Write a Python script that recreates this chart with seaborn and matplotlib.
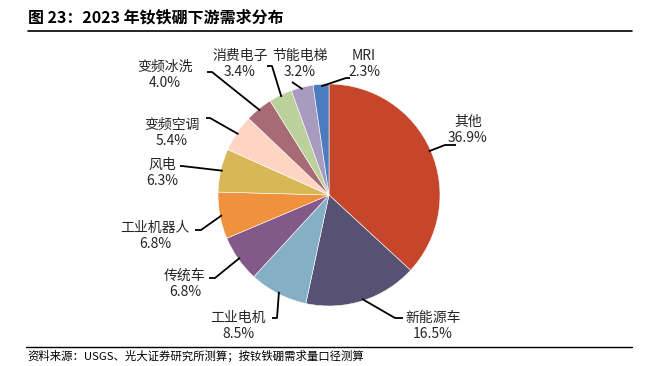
import numpy as np
import seaborn as sns
import matplotlib.pyplot as plt

sns.set_style("white")
plt.rcParams['font.family'] = ['Noto Sans CJK SC', 'DejaVu Sans']

# Data (clockwise from 12 o'clock)
labels = ['其他', '新能源车', '工业电机', '传统车', '工业机器人', '风电',
          '变频空调', '变频冰洗', '消费电子', '节能电梯', 'MRI']
shares = [36.9, 16.5, 8.5, 6.8, 6.8, 6.3, 5.4, 4.0, 3.4, 3.2, 2.3]
colors = ['#C5462A', '#575274', '#84AFC4', '#83598A', '#F0913D', '#D8B856',
          '#FDD5C2', '#A86A75', '#BBD09A', '#A99BC0', '#4A7CBF']

# label layout in pixel coords (x, y from top): text centre, elbow, end of horizontal
label_pos = {
    '其他': ((468, 130), (445, 145), (456, 145)),
    '新能源车': ((433, 326), (395, 318), (403, 318)),
    '工业电机': ((238, 326), (277, 318), (272, 318)),
    '传统车': ((185, 284), (215, 278), (209, 278)),
    '工业机器人': ((155, 236), (201, 230), (195, 230)),
    '风电': ((162, 173), (182, 166), (180, 166)),
    '变频空调': ((172, 133), (210, 118), (206, 118)),
    '变频冰洗': ((165, 75), (212, 72), (207, 72)),
    '消费电子': ((240, 64), (272, 66), (267, 66)),
    '节能电梯': ((300, 64), (292, 82), (292, 82)),
    'MRI': ((364, 64), (346, 78), (350, 78)),
}

W, H = 646, 366
fig = plt.figure(figsize=(W / 100, H / 100), dpi=100)
ax = fig.add_axes([0, 0, 1, 1])

cx, cy, r = 329, H - 195, 111
wedges, _ = ax.pie(shares, colors=colors, startangle=90, counterclock=False,
                   center=(cx, cy), radius=r, frame=True,
                   wedgeprops=dict(edgecolor='white', linewidth=0.4))
ax.set_xlim(0, W)
ax.set_ylim(0, H)
ax.set_aspect('equal')
ax.axis('off')

for w, lab, val in zip(wedges, labels, shares):
    (tx, ty), (ex, ey), (hx, hy) = label_pos[lab]
    ang = np.deg2rad((w.theta1 + w.theta2) / 2)
    sx = cx + (r - 2) * np.cos(ang)
    sy = cy + (r - 2) * np.sin(ang)
    ax.plot([sx, ex, hx], [sy, H - ey, H - hy], color='black', lw=1.3,
            solid_capstyle='butt', zorder=3)
    ax.text(tx, H - ty, f'{lab}\n{val:.1f}%', ha='center', va='center',
            fontsize=10, color='#262626', linespacing=1.2)

# title and footer
ax.text(28, H - 17, '图 23：2023 年钕铁硼下游需求分布', fontsize=11.5,
        fontweight='bold', ha='left', va='center', color='black')
ax.plot([28, 632], [H - 31, H - 31], color='black', lw=1.2)
ax.plot([26, 632], [H - 347, H - 347], color='black', lw=1.0)
ax.text(27, H - 356, '资料来源：USGS、光大证券研究所测算；按钕铁硼需求量口径测算',
        fontsize=8.2, ha='left', va='center', color='black')

fig.savefig('out.png', dpi=100)
